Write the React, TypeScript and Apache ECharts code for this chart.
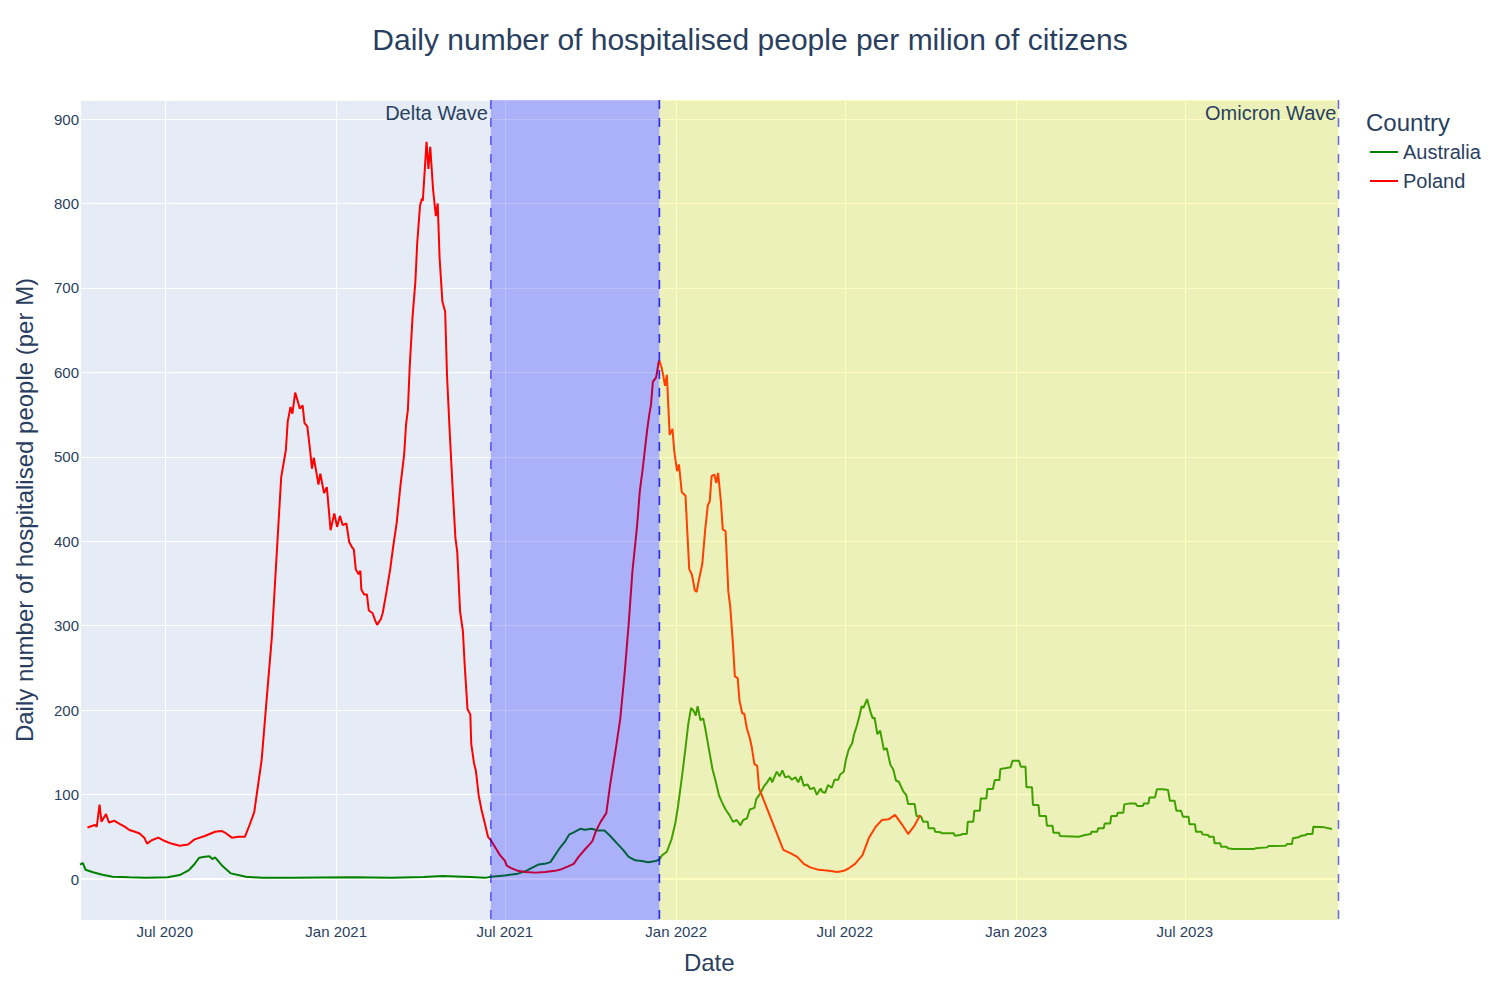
import React, { useEffect, useRef } from 'react';
import * as echarts from 'echarts';

const polandDates = [
  '2020-04-09','2020-04-17','2020-04-19','2020-04-22','2020-04-24','2020-04-29','2020-05-02','2020-05-08','2020-05-14','2020-05-19',
  '2020-05-24','2020-05-30','2020-06-04','2020-06-09','2020-06-12','2020-06-17','2020-06-24','2020-07-01','2020-07-08','2020-07-17',
  '2020-07-26','2020-08-02','2020-08-13','2020-08-24','2020-08-31','2020-09-05','2020-09-11','2020-09-18','2020-09-25','2020-09-30',
  '2020-10-05','2020-10-13','2020-10-18','2020-10-24','2020-10-29','2020-11-03','2020-11-08','2020-11-10','2020-11-13','2020-11-15',
  '2020-11-18','2020-11-21','2020-11-23','2020-11-26','2020-11-28','2020-12-01','2020-12-04','2020-12-06','2020-12-08','2020-12-13',
  '2020-12-15','2020-12-19','2020-12-22','2020-12-26','2020-12-30','2021-01-02','2021-01-05','2021-01-08','2021-01-12','2021-01-15',
  '2021-01-18','2021-01-20','2021-01-22','2021-01-25','2021-01-27','2021-01-28','2021-01-31','2021-02-03','2021-02-05','2021-02-09',
  '2021-02-12','2021-02-14','2021-02-18','2021-02-20','2021-02-24','2021-02-28','2021-03-03','2021-03-07','2021-03-11','2021-03-15',
  '2021-03-17','2021-03-19','2021-03-21','2021-03-24','2021-03-27','2021-03-29','2021-04-01','2021-04-03','2021-04-04','2021-04-08',
  '2021-04-10','2021-04-12','2021-04-15','2021-04-18','2021-04-20','2021-04-22','2021-04-25','2021-04-28','2021-04-30','2021-05-03',
  '2021-05-06','2021-05-09','2021-05-11','2021-05-14','2021-05-17','2021-05-19','2021-05-22','2021-05-25','2021-05-26','2021-05-29',
  '2021-05-31','2021-06-03','2021-06-06','2021-06-10','2021-06-13','2021-06-16','2021-06-21','2021-06-26','2021-07-01','2021-07-03',
  '2021-07-08','2021-07-15','2021-07-23','2021-08-03','2021-08-13','2021-08-24','2021-08-31','2021-09-07','2021-09-13','2021-09-18',
  '2021-09-25','2021-09-30','2021-10-03','2021-10-07','2021-10-12','2021-10-18','2021-10-22','2021-10-28','2021-11-02','2021-11-07',
  '2021-11-11','2021-11-15','2021-11-20','2021-11-23','2021-11-26','2021-11-29','2021-12-01','2021-12-03','2021-12-05','2021-12-07',
  '2021-12-10','2021-12-11','2021-12-13','2021-12-14','2021-12-16','2021-12-18','2021-12-20','2021-12-22','2021-12-25','2021-12-27',
  '2021-12-28','2021-12-30','2022-01-02','2022-01-04','2022-01-07','2022-01-11','2022-01-13','2022-01-15','2022-01-18','2022-01-21',
  '2022-01-23','2022-01-25','2022-01-29','2022-02-01','2022-02-04','2022-02-06','2022-02-08','2022-02-11','2022-02-13','2022-02-15',
  '2022-02-18','2022-02-20','2022-02-23','2022-02-26','2022-02-28','2022-03-03','2022-03-05','2022-03-08','2022-03-10','2022-03-13',
  '2022-03-15','2022-03-18','2022-03-21','2022-03-23','2022-03-26','2022-03-29','2022-03-31','2022-04-03','2022-04-26','2022-05-04',
  '2022-05-11','2022-05-18','2022-05-25','2022-06-03','2022-06-14','2022-06-23','2022-06-30','2022-07-05','2022-07-12','2022-07-20',
  '2022-07-27','2022-08-03','2022-08-10','2022-08-17','2022-08-24','2022-09-01','2022-09-07','2022-09-14','2022-09-20'
];
const polandValues = [
  61,64,62,88,68,77,67,69,65,62,
  58,56,54,49,42,46,49,45,42,39.5,
  41,47,51,56,57,54,49,50,50,64,
  79,141,208,287,382,476,508,542,559,551,
  576,565,557,561,540,536,508,486,499,467,
  480,457,464,413,433,417,430,419,421,399,
  393,390,367,361,365,343,337,337,318,315,
  306,301,308,315,340,367,392,422,466,503,
  538,556,608,666,707,753,797,806,803,873,
  841,867,817,785,800,736,684,672,596,527,
  463,404,387,317,294,253,201,195,160,137,
  128,99,82,64,50,46,37,28,22,16,
  13,9.7,8.4,7.6,8.4,9.7,11.7,15,18,26,
  35,41,45,57,68,78,111,153,190,248,
  302,364,418,460,485,514,533,549,562,589,
  593,597,611,614,607,597,584,597,526,531,
  533,506,483,491,458,454,410,367,360,342,
  340,352,373,412,443,447,477,479,469,481,
  447,414,412,340,323,277,240,238,211,196,
  196,178,167,157,136,134,107,99,34.6,30.4,
  26.3,18,13.8,10.9,9.7,8.4,9.7,12.5,18,28.3,
  49,61.6,70,70.7,76,63.6,53.3,63.6,76
];

const australiaDates = [
  '2020-04-01','2020-04-04','2020-04-07','2020-04-15','2020-04-25','2020-05-06','2020-05-24','2020-06-11','2020-07-04','2020-07-17',
  '2020-07-27','2020-08-02','2020-08-07','2020-08-13','2020-08-18','2020-08-21','2020-08-24','2020-09-01','2020-09-10','2020-09-26',
  '2020-10-14','2020-11-15','2020-12-15','2021-01-20','2021-03-01','2021-04-05','2021-04-25','2021-05-10','2021-05-25','2021-06-10',
  '2021-06-16','2021-07-01','2021-07-15','2021-07-24','2021-07-31','2021-08-06','2021-08-13','2021-08-19','2021-08-24','2021-08-29',
  '2021-09-04','2021-09-08','2021-09-13','2021-09-20','2021-09-25','2021-10-02','2021-10-09','2021-10-16','2021-10-22','2021-10-29',
  '2021-11-05','2021-11-11','2021-11-18','2021-11-25','2021-12-02','2021-12-10','2021-12-14','2021-12-17','2021-12-22','2021-12-27',
  '2021-12-31','2022-01-03','2022-01-07','2022-01-11','2022-01-14','2022-01-17','2022-01-20','2022-01-22','2022-01-24','2022-01-27',
  '2022-01-30','2022-02-01','2022-02-04','2022-02-09','2022-02-12','2022-02-16','2022-02-19','2022-02-23','2022-02-27','2022-03-03',
  '2022-03-07','2022-03-11','2022-03-14','2022-03-18','2022-03-21','2022-03-26','2022-03-28','2022-04-01','2022-04-05','2022-04-08',
  '2022-04-12','2022-04-14','2022-04-19','2022-04-22','2022-04-25','2022-04-28','2022-05-02','2022-05-05','2022-05-09','2022-05-12',
  '2022-05-15','2022-05-18','2022-05-22','2022-05-25','2022-05-29','2022-06-01','2022-06-05','2022-06-07','2022-06-10','2022-06-13',
  '2022-06-17','2022-06-20','2022-06-24','2022-06-26','2022-06-30','2022-07-02','2022-07-05','2022-07-09','2022-07-11','2022-07-14',
  '2022-07-17','2022-07-19','2022-07-21','2022-07-25','2022-07-29','2022-07-31','2022-08-02','2022-08-05','2022-08-08','2022-08-12',
  '2022-08-15','2022-08-19','2022-08-22','2022-08-25','2022-08-28','2022-09-02','2022-09-05','2022-09-07','2022-09-14','2022-09-16',
  '2022-09-21','2022-09-23','2022-09-28','2022-09-29','2022-10-05','2022-10-06','2022-10-12','2022-10-13','2022-10-26','2022-10-27',
  '2022-11-02','2022-11-04','2022-11-09','2022-11-10','2022-11-16','2022-11-17','2022-11-23','2022-11-24','2022-11-30','2022-12-01',
  '2022-12-07','2022-12-09','2022-12-14','2022-12-15','2022-12-20','2022-12-26','2022-12-28','2023-01-04','2023-01-06','2023-01-11',
  '2023-01-12','2023-01-18','2023-01-19','2023-01-25','2023-01-26','2023-02-02','2023-02-03','2023-02-09','2023-02-10','2023-02-16',
  '2023-02-17','2023-03-09','2023-03-16','2023-03-22','2023-03-23','2023-03-29','2023-03-30','2023-04-05','2023-04-06','2023-04-12',
  '2023-04-13','2023-04-19','2023-04-20','2023-04-26','2023-04-27','2023-05-03','2023-05-09','2023-05-11','2023-05-17','2023-05-18',
  '2023-05-23','2023-05-24','2023-05-30','2023-06-01','2023-06-07','2023-06-13','2023-06-15','2023-06-20','2023-06-22','2023-06-27',
  '2023-06-29','2023-07-05','2023-07-06','2023-07-12','2023-07-13','2023-07-19','2023-07-20','2023-07-26','2023-07-27','2023-08-01',
  '2023-08-02','2023-08-08','2023-08-09','2023-08-15','2023-08-16','2023-08-22','2023-09-13','2023-09-15','2023-09-27','2023-09-29',
  '2023-10-17','2023-10-19','2023-10-24','2023-10-25','2023-10-31','2023-11-02','2023-11-08','2023-11-09','2023-11-15','2023-11-16',
  '2023-11-28','2023-12-06'
];
const australiaValues = [
  17,19,11,8,5,2.7,2,1.5,2,4.7,
  10.7,17.8,25.3,26.4,26.9,23.7,25.7,15.4,6.7,2.7,
  1.5,1.5,1.8,2,1.5,2.5,3.5,3,2.5,1.4,
  2.6,4.3,6.4,9.7,13.8,17.1,18,20,28.3,36.7,
  45,52.5,55.3,59.5,58.3,59.5,57.4,57.4,51.2,42.9,
  34.6,26.3,22.2,21.3,20,21.3,23,28.3,32.4,47,
  65.7,86.5,119.6,154.9,183.9,202.6,198.5,193.5,204.7,188,
  190.2,179.7,161,130,117.6,98.9,91.4,82.3,76,67.7,
  69.9,63.6,69.9,71.9,82.3,84.3,94.7,100.9,109.3,113.5,
  120.4,114.6,127.1,121.7,128.7,120.4,121.7,117.6,120.4,114.6,
  121.7,110.5,112.1,106.4,108.1,99.7,107.2,103,102.2,111.3,
  108.1,117.6,117.6,123.8,127.1,140.3,152.9,161.1,171.5,181.9,
  194.3,204.8,202.6,213,196.4,190.2,191,171.5,175.6,152.9,
  154.9,135,130,116.4,115.2,103.4,99.5,88.8,88.8,74.6,
  73.8,67.9,67.9,60,60,56,55.3,54.1,54.1,51.3,
  52.1,53.3,53.3,67.9,67.9,80.9,80.9,95.5,95.5,106.6,
  106.6,117.2,117.2,130.3,131.1,132.3,140.1,140.1,133,133,
  108.6,108.6,87.6,87.6,74.6,74.6,63.1,63.1,54.8,54.8,
  50.9,50.1,52.1,53.3,56,56,60,60,65.9,65.9,
  74.6,74.6,78.5,78.5,88.4,89.6,89.6,86.5,86.5,89.6,
  89.6,96.7,96.7,106.2,106.2,105.4,92.7,92.7,80.9,80.9,
  73.8,73.8,64.8,64.8,56,56,52.9,52.1,50.1,50.1,
  42.3,42.3,38.3,38.3,36.4,35.5,35.5,36.4,37.5,39.1,
  39.5,41.4,41.4,48.2,49.4,50.9,52.1,53.3,53.3,62,
  61.2,59.2
];

const waveNames = ['Delta Wave', 'Omicron Wave'];
const waveStarts = ['2021-06-16', '2021-12-14'];
const waveEnds = ['2021-12-14', '2023-12-13'];

const xRange = ['2020-04-01', '2023-12-13'];
const yRange = [-48.5, 922.5];
const monthNames = ['Jan', 'Feb', 'Mar', 'Apr', 'May', 'Jun', 'Jul', 'Aug', 'Sep', 'Oct', 'Nov', 'Dec'];

const FONT = '"Liberation Sans", Arial, Helvetica, sans-serif';
const TEXT = '#2a3f5f';
const waveFills = ['rgba(0,0,255,0.25)', 'rgba(255,255,0,0.25)'];

const ts = (s: string) => new Date(s + 'T00:00:00').getTime();

export default function App() {
  const ref = useRef<HTMLDivElement>(null);

  useEffect(() => {
    document.body.style.margin = '0';
    const chart = echarts.init(ref.current as HTMLDivElement, null, { renderer: 'svg' });
    const halfYear = 182 * 24 * 3600 * 1000;

    const option: any = {
      animation: false,
      backgroundColor: '#ffffff',
      textStyle: { fontFamily: FONT },
      title: [
        {
          text: 'Daily number of hospitalised people per milion of citizens',
          left: 'center',
          top: 24,
          padding: 0,
          textStyle: { fontSize: 30, fontWeight: 'normal', color: TEXT, fontFamily: FONT },
        },
        {
          text: 'Country',
          left: 1366,
          top: 110,
          padding: 0,
          textStyle: { fontSize: 24, fontWeight: 'normal', color: TEXT, fontFamily: FONT },
        },
      ],
      legend: {
        data: ['Australia', 'Poland'],
        orient: 'vertical',
        left: 1370,
        top: 142,
        padding: 0,
        itemWidth: 28,
        itemHeight: 2,
        itemGap: 9,
        icon: 'rect',
        textStyle: { fontSize: 20, color: TEXT, fontFamily: FONT },
      },
      grid: {
        left: 80,
        right: 161.5,
        top: 100,
        bottom: 80,
        show: true,
        backgroundColor: '#E5ECF6',
        borderWidth: 0,
        containLabel: false,
        outerBoundsMode: 'none',
      },
      xAxis: {
        type: 'time',
        min: ts(xRange[0]),
        max: ts(xRange[1]),
        minInterval: halfYear,
        maxInterval: halfYear,
        name: 'Date',
        nameLocation: 'middle',
        nameGap: 30,
        nameTextStyle: { fontSize: 24, color: TEXT, fontFamily: FONT },
        axisLine: { show: false },
        axisTick: { show: false },
        splitLine: { show: true, lineStyle: { color: '#ffffff', width: 1 } },
        axisLabel: {
          show: true,
          showMinLabel: false,
          showMaxLabel: false,
          margin: 4,
          fontSize: 15,
          color: TEXT,
          fontFamily: FONT,
          formatter: (val: number) => {
            const d = new Date(val);
            return monthNames[d.getMonth()] + ' ' + d.getFullYear();
          },
        },
      },
      yAxis: {
        type: 'value',
        min: yRange[0],
        max: yRange[1],
        splitNumber: 10,
        minInterval: 100,
        maxInterval: 100,
        name: 'Daily number of hospitalised people (per M)',
        nameLocation: 'middle',
        nameGap: 44,
        nameTextStyle: { fontSize: 24, color: TEXT, fontFamily: FONT },
        axisLine: { show: false },
        axisTick: { show: false },
        splitLine: { show: true, lineStyle: { color: '#ffffff', width: 1 } },
        axisLabel: {
          showMinLabel: false,
          showMaxLabel: false,
          margin: 1,
          fontSize: 15,
          color: TEXT,
          fontFamily: FONT,
        },
      },
      series: [
        {
          type: 'custom',
          name: 'zeroline',
          z: 1,
          silent: true,
          data: [[ts(xRange[0]), 0]],
          encode: { x: 0, y: 1 },
          renderItem: (params: any, api: any) => {
            const cs = params.coordSys;
            const y = api.coord([api.value(0), api.value(1)])[1];
            return {
              type: 'line',
              shape: { x1: cs.x, y1: y, x2: cs.x + cs.width, y2: y },
              style: { stroke: '#ffffff', lineWidth: 2 },
            };
          },
        },
        {
          type: 'line',
          name: 'Australia',
          z: 2,
          color: '#008000',
          showSymbol: false,
          symbol: 'none',
          lineStyle: { color: '#008000', width: 2 },
          data: australiaDates.map((d, i) => [ts(d), australiaValues[i]]),
        },
        {
          type: 'line',
          name: 'Poland',
          z: 3,
          color: '#ff0000',
          showSymbol: false,
          symbol: 'none',
          lineStyle: { color: '#ff0000', width: 2 },
          data: polandDates.map((d, i) => [ts(d), polandValues[i]]),
        },
        {
          type: 'custom',
          name: 'waves',
          z: 10,
          silent: true,
          dimensions: ['start', 'end', 'idx'],
          encode: { x: [0, 1] },
          data: waveNames.map((_, i) => [ts(waveStarts[i]), ts(waveEnds[i]), i]),
          renderItem: (params: any, api: any) => {
            const cs = params.coordSys;
            const x0 = api.coord([api.value(0), 0])[0];
            const x1 = api.coord([api.value(1), 0])[0];
            const i = api.value(2);
            const edge = (x: number) => ({
              type: 'line',
              shape: { x1: x, y1: cs.y, x2: x, y2: cs.y + cs.height },
              style: { stroke: 'rgba(0,0,255,0.6)', lineWidth: 1.5, lineDash: [9, 9] },
            });
            const labelX = i === 0 ? x0 - 3 : x1 - 2;
            return {
              type: 'group',
              children: [
                {
                  type: 'rect',
                  shape: { x: x0, y: cs.y, width: x1 - x0, height: cs.height },
                  style: { fill: waveFills[i] },
                },
                edge(x0),
                edge(x1),
                {
                  type: 'text',
                  x: labelX,
                  y: cs.y + 13,
                  style: {
                    text: waveNames[i],
                    align: 'right',
                    verticalAlign: 'middle',
                    fill: TEXT,
                    fontSize: 20,
                    fontFamily: FONT,
                  },
                },
              ],
            };
          },
        },
      ],
    };

    chart.setOption(option);
    return () => chart.dispose();
  }, []);

  return <div ref={ref} style={{ width: 1500, height: 1000 }} />;
}
